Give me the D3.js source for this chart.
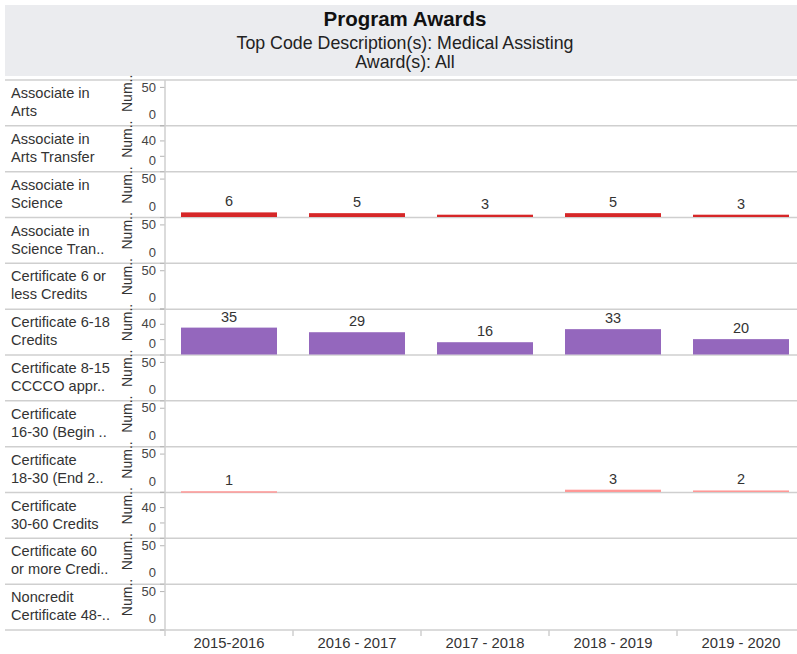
<!DOCTYPE html>
<html>
<head>
<meta charset="utf-8">
<script src="https://cdn.jsdelivr.net/npm/d3@7"></script>
<style>
  body { margin: 0; background: #fff; }
  svg { display: block; font-family: "Liberation Sans", Arial, sans-serif; }
</style>
</head>
<body>
<svg id="chart"></svg>
<script>
const years = ["2015-2016", "2016 - 2017", "2017 - 2018", "2018 - 2019", "2019 - 2020"];

// row headers, already wrapped / truncated the way the dashboard shows them
const awardLabels = [
    ["Associate in", "Arts"],
    ["Associate in", "Arts Transfer"],
    ["Associate in", "Science"],
    ["Associate in", "Science Tran.."],
    ["Certificate 6 or", "less Credits"],
    ["Certificate 6-18", "Credits"],
    ["Certificate 8-15", "CCCCO appr.."],
    ["Certificate", "16-30 (Begin .."],
    ["Certificate", "18-30 (End 2.."],
    ["Certificate", "30-60 Credits"],
    ["Certificate 60", "or more Credi.."],
    ["Noncredit", "Certificate 48-.."]
];

// number of awards per year (null = no awards that year)
const associateScience = [6, 5, 3, 5, 3];
const certificate6to18 = [35, 29, 16, 33, 20];
const certificate18to30 = [1, null, null, 3, 2];

// tick steps per row axis (tableau picked 20 on a few panes)
const tickStep = [50, 20, 50, 50, 50, 20, 50, 50, 50, 20, 50, 50];

const rowValues = {
    2: associateScience,
    5: certificate6to18,
    8: certificate18to30
};
const rowColor = {
    2: "#d62728",
    5: "#9467bd",
    8: "#ff9896"
};

const width = 797;
const height = 654;
const gridColor = "#cfcfcf";

const svg = d3.select("#chart")
    .attr("width", width)
    .attr("height", height)
    .attr("viewBox", [0, 0, width, height]);

// header
svg.append("rect")
    .attr("x", 5).attr("y", 5)
    .attr("width", width - 5).attr("height", 71)
    .attr("fill", "#ebecef");

const header = svg.append("g").attr("text-anchor", "middle");
header.append("text")
    .attr("x", 405).attr("y", 26)
    .attr("font-size", 20.5).attr("font-weight", "bold").attr("fill", "#111")
    .text("Program Awards");
header.append("text")
    .attr("x", 405).attr("y", 49)
    .attr("font-size", 17.8).attr("fill", "#222")
    .text("Top Code Description(s): Medical Assisting");
header.append("text")
    .attr("x", 405).attr("y", 68)
    .attr("font-size", 17.8).attr("fill", "#222")
    .text("Award(s): All");

const axisX = 165;
const x = d3.scaleBand()
    .domain(years)
    .range([axisX, axisX + 640])
    .paddingInner(0.25)
    .paddingOuter(0.125);

const rows = d3.scaleBand()
    .domain(d3.range(awardLabels.length))
    .range([80, 630]);
const rowH = rows.bandwidth();

const y = d3.scaleLinear().domain([0, 59]).range([rowH - 0.5, 0]);

// top border of the first row
svg.append("line")
    .attr("x1", 5).attr("x2", width)
    .attr("y1", rows(0)).attr("y2", rows(0))
    .attr("stroke", gridColor).attr("stroke-width", 1.5);

const row = svg.selectAll("g.row")
    .data(awardLabels)
    .join("g")
        .attr("class", "row")
        .attr("transform", (_d, i) => `translate(0,${rows(i)})`);

// row separators (under the bars)
row.append("line")
    .attr("x1", 5).attr("x2", width)
    .attr("y1", rowH).attr("y2", rowH)
    .attr("stroke", gridColor).attr("stroke-width", 1.5);

row.append("text")
    .attr("font-size", 14.6)
    .attr("fill", "#333")
    .selectAll("tspan")
    .data(d => d)
    .join("tspan")
        .attr("x", 11)
        .attr("y", (_d, j) => 18 + j * 18)
        .text(d => d);

row.append("text")
    .attr("transform", "translate(132,32) rotate(-90)")
    .attr("font-size", 14)
    .attr("fill", "#333")
    .text("Num..");

row.each(function(_d, i) {
    const g = d3.select(this);
    const step = tickStep[i];
    const ticks = d3.range(0, 61, step);
    const labelled = step === 20 ? [0, 40] : [0, 50];

    const ax = g.append("g")
        .attr("transform", `translate(${axisX},0)`)
        .call(d3.axisLeft(y)
            .tickValues(ticks)
            .tickSize(5)
            .tickPadding(4)
            .tickFormat(v => labelled.includes(v) ? v : ""));
    ax.select(".domain").remove();
    ax.selectAll(".tick line").attr("stroke", "#b5b5b5");
    ax.selectAll(".tick text")
        .attr("font-family", "'Liberation Sans', Arial, sans-serif")
        .attr("font-size", 13)
        .attr("fill", "#444");
    // bottom label is pulled inside the pane
    ax.selectAll(".tick text").filter(v => v === 0)
        .attr("transform", "translate(0,-11)");

    const values = rowValues[i];
    if (!values) return;
    const pts = years.map((yr, j) => ({ year: yr, value: values[j] }))
        .filter(p => p.value != null);

    g.append("g")
        .selectAll("rect")
        .data(pts)
        .join("rect")
            .attr("x", p => x(p.year))
            .attr("width", x.bandwidth())
            .attr("y", p => y(p.value))
            .attr("height", p => Math.max(1.5, y(0) - y(p.value)))
            .attr("fill", rowColor[i]);

    g.append("g")
        .attr("text-anchor", "middle")
        .attr("font-size", 14.5)
        .attr("fill", "#333")
        .selectAll("text")
        .data(pts)
        .join("text")
            .attr("x", p => x(p.year) + x.bandwidth() / 2)
            .attr("y", p => y(p.value) - 6)
            .text(p => p.value);
});

// vertical axis rule
svg.append("line")
    .attr("x1", axisX).attr("x2", axisX)
    .attr("y1", rows(0)).attr("y2", rows.range()[1] + 6)
    .attr("stroke", gridColor).attr("stroke-width", 1.5);

// bottom year axis
const xAxis = svg.append("g")
    .attr("transform", `translate(0,${rows.range()[1]})`);

xAxis.selectAll("line")
    .data(years.slice(1))
    .join("line")
        .attr("x1", d => x(d) - x.step() * x.paddingInner() / 2)
        .attr("x2", d => x(d) - x.step() * x.paddingInner() / 2)
        .attr("y1", 0).attr("y2", 6)
        .attr("stroke", gridColor).attr("stroke-width", 1.5);

xAxis.selectAll("text")
    .data(years)
    .join("text")
        .attr("x", d => x(d) + x.bandwidth() / 2)
        .attr("y", 18)
        .attr("text-anchor", "middle")
        .attr("font-size", 14.8)
        .attr("fill", "#333")
        .text(d => d);
</script>
</body>
</html>
